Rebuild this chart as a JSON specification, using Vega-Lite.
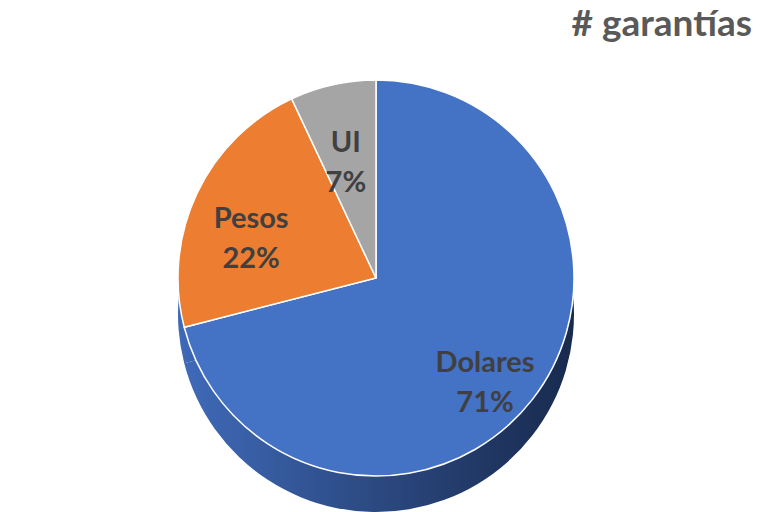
{
  "$schema": "https://vega.github.io/schema/vega-lite/v6.json",
  "width": 762,
  "height": 512,
  "autosize": {"type": "fit", "contains": "padding"},
  "padding": {"left": 0, "right": 10, "top": 6, "bottom": 0},
  "background": "white",
  "title": {
    "text": "# garantías",
    "anchor": "end",
    "font": "Lato",
    "fontSize": 37,
    "fontWeight": "bold",
    "color": "#595959",
    "offset": 0
  },
  "config": {"view": {"stroke": null}},
  "data": {
    "values": [
      {"moneda": "Dolares", "pct": 71, "order": 1},
      {"moneda": "Pesos", "pct": 22, "order": 2},
      {"moneda": "UI", "pct": 7, "order": 3}
    ]
  },
  "encoding": {
    "theta": {"field": "pct", "type": "quantitative", "stack": true},
    "order": {"field": "order", "type": "quantitative"}
  },
  "layer": [
    {
      "mark": {
        "type": "arc",
        "outerRadius": 198,
        "yOffset": 36,
        "fill": {
          "gradient": "linear",
          "x1": 0, "y1": 0, "x2": 1, "y2": 0,
          "stops": [
            {"offset": 0, "color": "#3f6ab8"},
            {"offset": 0.5, "color": "#2b4880"},
            {"offset": 1, "color": "#182a4d"}
          ]
        }
      }
    },
    {
      "mark": {"type": "arc", "outerRadius": 198, "stroke": "white", "strokeWidth": 1.5},
      "encoding": {
        "color": {
          "field": "moneda",
          "type": "nominal",
          "scale": {"domain": ["Dolares", "Pesos", "UI"], "range": ["#4472C4", "#ED7D31", "#A5A5A5"]},
          "legend": null
        }
      }
    },
    {
      "transform": [{"calculate": "datum.moneda + '\\n' + datum.pct + '%'", "as": "label"}],
      "mark": {
        "type": "text",
        "radius": 138,
        "font": "Lato",
        "fontSize": 29,
        "fontWeight": "bold",
        "color": "#404040",
        "lineBreak": "\n",
        "lineHeight": 40
      },
      "encoding": {"text": {"field": "label", "type": "nominal"}}
    }
  ]
}
